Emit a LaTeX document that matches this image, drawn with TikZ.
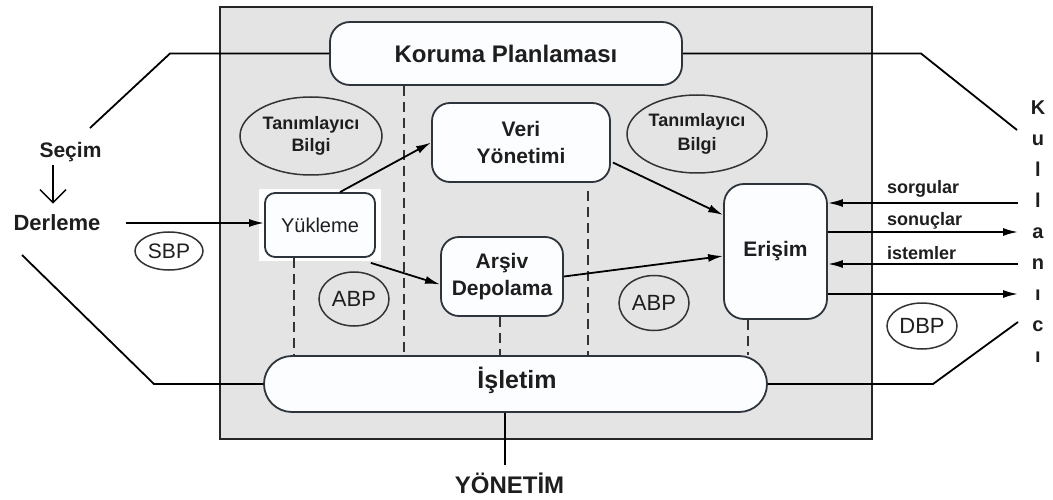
\documentclass[tikz,border=0pt]{standalone}
\usepackage{fontspec}
\setmainfont{Liberation Sans}
\usetikzlibrary{shapes.geometric,arrows.meta,calc}
\newcommand\fsz[1]{\fontsize{#1}{#1}\selectfont}
\definecolor{panelgray}{RGB}{228,228,228}
\definecolor{boxline}{RGB}{45,52,60}
\definecolor{boxfill}{RGB}{252,253,255}
\definecolor{ink}{RGB}{30,30,30}

\begin{document}
\begin{tikzpicture}[x=1pt,y=-1pt,
  panel/.style={draw=black!85, line width=2.2pt, fill=panelgray, inner sep=0pt},
  procbox/.style={draw=boxline, line width=1.8pt, fill=boxfill, rounded corners=18pt,
    align=center, font=\bfseries\fontsize{21}{27}\selectfont, text=ink, inner sep=0pt},
  infoell/.style={ellipse, draw=black!80, line width=1.5pt, inner sep=0pt, align=center, text=ink},
  plain/.style={inner sep=0pt, text=ink},
  flow/.style={line width=1.8pt, -{Latex[length=15pt,width=8pt]}},
  link/.style={line width=1.8pt},
  guide/.style={dash pattern=on 10pt off 6pt, line width=2pt, draw=black!80},
  barb/.style={line width=1.5pt, -{Straight Barb[length=13pt,width=26pt,line width=1.5pt]}}
]
\useasboundingbox (0,0) rectangle (1053,500);

% grey system panel
\node[panel, minimum width=652pt, minimum height=432pt] (panel) at (546,223) {};

% white backdrop of the loading step
\fill[white] (259,189) rectangle (381,261);

% process boxes
\node[procbox, minimum width=352pt, minimum height=63pt, rounded corners=20pt,
      font=\bfseries\fsz{24}] (koruma) at (506,53.5) {Koruma Planlaması};
\node[procbox, minimum width=178pt, minimum height=79pt] (veri) at (521,142.5) {Veri\\Yönetimi};
\node[procbox, minimum width=122pt, minimum height=79pt] (arsiv) at (502,276.5) {Arşiv\\Depolama};
\node[procbox, minimum width=103pt, minimum height=135pt, rounded corners=20pt] (erisim) at (775.5,251.5) {Erişim};
\node[procbox, minimum width=110pt, minimum height=64pt, rounded corners=10pt,
      font=\fsz{20}] (yuk) at (320,225) {Yükleme};
\node[procbox, minimum width=503pt, minimum height=56pt, rounded corners=27.9pt,
      font=\bfseries\fsz{25}] (isletim) at (515.5,384) {};
\node[plain, font=\bfseries\fsz{25}] (isletimtxt) at (517,380) {İşletim};

% descriptive information and package ellipses
\node[infoell, minimum width=142pt, minimum height=78pt,
      font=\bfseries\fontsize{18}{22}\selectfont] (tanL) at (311,136) {Tanımlayıcı\\Bilgi};
\node[infoell, minimum width=140pt, minimum height=78pt,
      font=\bfseries\fontsize{18}{24}\selectfont] (tanR) at (697,134) {Tanımlayıcı\\Bilgi};
\node[infoell, minimum width=70pt, minimum height=54pt, font=\fsz{22}] (abp1) at (354,299) {ABP};
\node[infoell, minimum width=70pt, minimum height=55pt, font=\fsz{22}] (abp2) at (654,303) {ABP};
\node[infoell, minimum width=68pt, minimum height=38pt, font=\fsz{21}] (sbp) at (169,251) {SBP};
\node[infoell, minimum width=70pt, minimum height=46pt, font=\fsz{22}] (dbp) at (922,326) {DBP};

% outside labels
\node[plain, font=\bfseries\fsz{21}] (secim) at (70.5,152) {Seçim};
\node[plain, font=\bfseries\fsz{22}] (derleme) at (57,223) {Derleme};
\node[plain, font=\bfseries\fsz{24}, anchor=base] (yonetim) at (509.5,493) {YÖNETİM};
\node[plain, font=\bfseries\fontsize{20}{31}\selectfont, align=center] (kullanici) at (1038,231.5)
  {K\\u\\l\\l\\a\\n\\ı\\c\\ı};
\node[plain, font=\bfseries\fsz{18}, anchor=west] (sorg) at (887,189) {sorgular};
\node[plain, font=\bfseries\fsz{18}, anchor=west] (sonuc) at (887,221) {sonuçlar};
\node[plain, font=\bfseries\fsz{18}, anchor=west] (istem) at (887,253) {istemler};

% free ends of the outer connectors
\coordinate (kL) at (170,53.5);  \coordinate (sL) at (90,128);
\coordinate (kR) at (921,53.5);  \coordinate (uR) at (1017,130);
\coordinate (dL) at (22,255);    \coordinate (iL) at (154,384);
\coordinate (iR) at (933,384);   \coordinate (cR) at (1018,322);
\coordinate (yx) at (505,465);
\coordinate (sx) at (53,0);
\coordinate (u1) at (1018,203);  \coordinate (u2) at (1018,232);
\coordinate (u3) at (1018,264);  \coordinate (u4) at (1018,294);

% outer connectors
\draw[link] (koruma.west) -- (kL) -- (sL);
\draw[link] (koruma.east) -- (kR) -- (uR);
\draw[link] (dL) -- (iL) -- (isletim.west);
\draw[link] (isletim.east) -- (iR) -- (cR);
\draw[link] (isletim.south -| yx) -- (yx);

% dashed guides down to operations
\coordinate (g1) at (294,0); \coordinate (g2) at (404,0); \coordinate (g3) at (500,0);
\coordinate (g4) at (588,0); \coordinate (g5) at (748,0);
\draw[guide] (yuk.south -| g1) -- (isletim.north -| g1);
\draw[guide] (koruma.south -| g2) -- (isletim.north -| g2);
\draw[guide] (arsiv.south -| g3) -- (isletim.north -| g3);
\draw[guide] ($(veri.south -| g4)+(0,8)$) -- (isletim.north -| g4);
\draw[guide] (erisim.south -| g5) -- (isletim.north -| g5);

% flows
\draw[barb, shorten <=3pt, shorten >=11pt] (secim.south -| sx) -- (derleme.north -| sx);
\draw[flow] ($(derleme.east)+(25,0)$) -- (derleme.east -| yuk.west);
\draw[flow] ($(yuk.north)+(20,0)$) -- (veri.west);
\draw[flow] ($(yuk.south east)+(-5,5)$) -- ($(arsiv.west)+(0,8)$);
\draw[flow] ($(veri.east)+(2,20)$) -- ($(erisim.west)+(0,-36.5)$);
\draw[flow] (arsiv.east) -- ($(erisim.west)+(0,4.5)$);
\draw[flow] (u1) -- (u1 -| erisim.east);
\draw[flow] (u2 -| erisim.east) -- (u2);
\draw[flow] (u3) -- (u3 -| erisim.east);
\draw[flow] (u4 -| erisim.east) -- (u4);
\end{tikzpicture}
\end{document}
